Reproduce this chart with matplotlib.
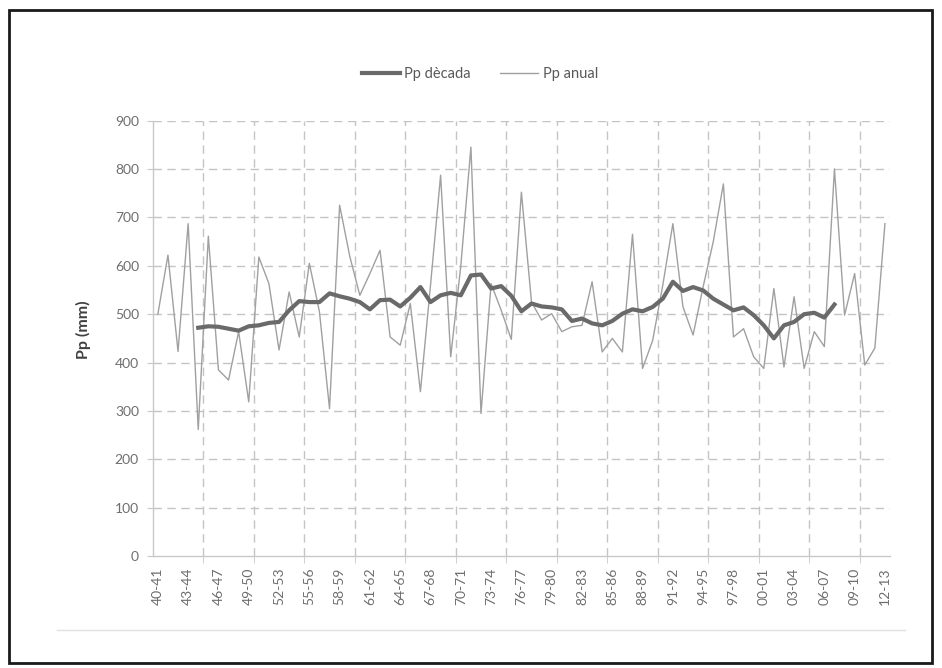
import matplotlib
matplotlib.use("Agg")
import matplotlib.pyplot as plt
from matplotlib.patches import Rectangle
from matplotlib.lines import Line2D
import numpy as np

plt.rcParams['font.family'] = ['Lato', 'DejaVu Sans']

# --- data ---
start_years = list(range(1940, 2013))
categories = [f"{y % 100:02d}-{(y + 1) % 100:02d}" for y in start_years]

pp_anual = [500, 622, 423, 687, 262, 661, 385, 364, 464, 319,
            618, 563, 426, 546, 453, 605, 505, 305, 725, 620,
            539, 584, 632, 453, 436, 522, 340, 560, 787, 412,
            600, 845, 295, 563, 508, 448, 752, 525, 488, 501,
            464, 474, 477, 567, 422, 450, 422, 665, 388, 446,
            560, 687, 515, 457, 557, 650, 769, 453, 470, 412,
            388, 553, 391, 536, 388, 464, 433, 800, 498, 584,
            395, 430, 687]

nan = np.nan
pp_decada = [nan, nan, nan, nan, 472, 475, 474, 470, 466, 475,
             477, 482, 484, 508, 527, 525, 525, 543, 537, 532,
             525, 510, 529, 530, 516, 534, 556, 525, 539, 544,
             539, 580, 582, 553, 558, 538, 506, 522, 516, 514,
             510, 486, 491, 481, 477, 486, 501, 510, 506, 515,
             532, 567, 548, 556, 549, 532, 520, 508, 514, 498,
             477, 450, 477, 484, 500, 503, 493, 520, nan, nan,
             nan, nan, nan]

y_ticks = [0, 100, 200, 300, 400, 500, 600, 700, 800, 900]
label_step = 3
grid_step = 5

# --- figure ---
W, H = 942, 668
fig = plt.figure(figsize=(W / 100, H / 100), dpi=100)
fig.patch.set_facecolor('white')

left, right = 152.8 / W, 890.0 / W
bottom, top = 1 - 556.3 / H, 1 - 120.5 / H
ax = fig.add_axes([left, bottom, right - left, top - bottom])

x = np.arange(len(categories))
ax.plot(x, pp_anual, color='#a0a0a0', lw=1.0, zorder=3, label='Pp anual')
ax.plot(x, pp_decada, color='#6a6a6a', lw=3.0, zorder=4,
        solid_joinstyle='round', label='Pp dècada')

ax.set_xlim(-0.5, len(categories) - 0.5)
ax.set_ylim(0, 900)

grid_col = '#c4c4c4'
for v in y_ticks[1:]:
    ax.axhline(v, color=grid_col, lw=1.0, ls=(0, (6, 4)), zorder=1)
vpos = np.arange(-0.5 + grid_step, len(categories) - 0.5, grid_step)
for v in vpos:
    ax.axvline(v, color=grid_col, lw=1.0, ls=(0, (6, 4)), zorder=1)

for s in ['top', 'right']:
    ax.spines[s].set_visible(False)
ax.spines['left'].set_color('#c8c8c8')
ax.spines['bottom'].set_color('#c8c8c8')
ax.spines['left'].set_linewidth(1.0)
ax.spines['bottom'].set_linewidth(1.0)

lab_col = '#6e6e6e'
ax.set_yticks(y_ticks)
ax.set_yticklabels([str(v) for v in y_ticks], fontsize=10, color=lab_col)
ax.tick_params(axis='y', length=4, color='#c8c8c8', pad=6)

ax.set_xticks(x[::label_step])
ax.set_xticklabels(categories[::label_step], rotation=90, fontsize=10, color=lab_col)
ax.tick_params(axis='x', which='major', length=0, pad=8)
ax.set_xticks(vpos, minor=True)
ax.tick_params(axis='x', which='minor', length=5, color='#c8c8c8')

fig.text(83 / W, 1 - 330 / H, 'Pp (mm)', rotation=90, fontsize=11.5,
         fontweight='bold', color='#404040', ha='center', va='center')

handles = [Line2D([], [], color='#6a6a6a', lw=3.0),
           Line2D([], [], color='#a0a0a0', lw=1.0)]
fig.legend(handles, ['Pp dècada', 'Pp anual'], loc='center',
           bbox_to_anchor=(480 / W, 1 - 74 / H), ncol=2, frameon=False,
           fontsize=10.5, labelcolor='#595959', handlelength=2.6,
           handletextpad=0.3, columnspacing=2.0)

# light chart-area bottom line
fig.add_artist(Line2D([57 / W, 905 / W], [1 - 630 / H, 1 - 630 / H],
                      color='#e0e0e0', lw=1.0))
# outer black border
fig.add_artist(Rectangle((9 / W, 1 - 663 / H), (932 - 9) / W, (663 - 10) / H,
                         fill=False, edgecolor='#1a1a1a', lw=2.0))

fig.savefig('out.png', dpi=100, facecolor='white')
